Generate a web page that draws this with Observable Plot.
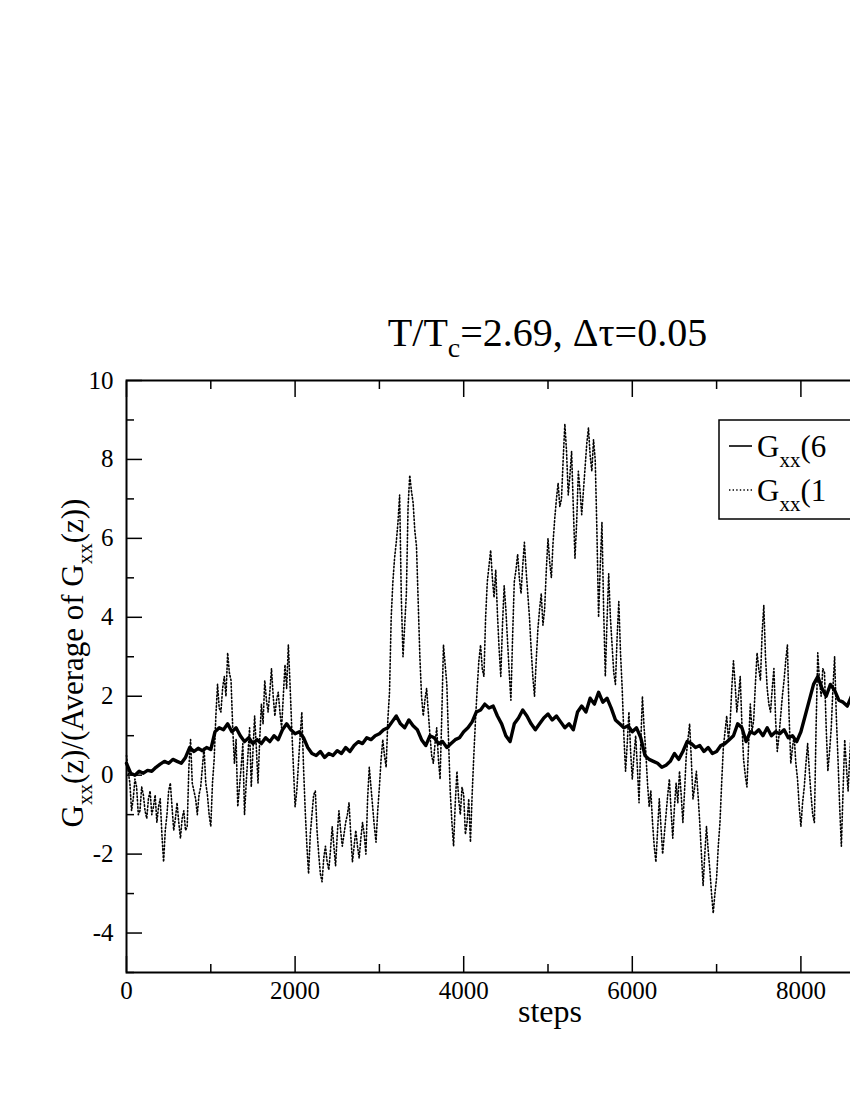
<!DOCTYPE html>
<html><head><meta charset="utf-8">
<script src="https://cdn.jsdelivr.net/npm/d3@7"></script>
<script src="https://cdn.jsdelivr.net/npm/@observablehq/plot@0.6"></script>
<style>
html,body{margin:0;padding:0;background:#fff;overflow:hidden;width:850px;height:1100px;}
#chart{position:relative;width:1100px;height:1100px;}
</style></head><body><div id="chart"></div>
<script>
// ---- data ----
const solidStep = 50;
const solidValues = [
  0.3,0.05,0.0,0.1,0.05,0.12,0.1,0.2,0.28,0.35,0.3,0.4,0.35,0.3,0.45,0.7,0.6,0.68,0.62,0.7,
  0.65,1.1,1.2,1.15,1.3,1.1,1.2,1.0,0.85,0.95,0.8,0.9,0.8,0.95,0.85,1.0,0.9,1.15,1.3,1.15,
  1.05,1.1,0.95,0.7,0.55,0.5,0.6,0.45,0.55,0.5,0.62,0.55,0.7,0.6,0.75,0.85,0.8,0.95,0.9,1.0,
  1.05,1.15,1.2,1.35,1.5,1.3,1.2,1.4,1.25,1.15,0.9,0.75,1.0,0.95,0.8,0.85,0.7,0.8,0.9,0.95,
  1.1,1.2,1.35,1.6,1.65,1.8,1.7,1.75,1.5,1.3,1.0,0.85,1.3,1.45,1.65,1.5,1.3,1.15,1.3,1.45,
  1.55,1.4,1.5,1.35,1.2,1.3,1.15,1.6,1.75,1.6,1.95,1.8,2.1,1.85,1.95,1.7,1.4,1.3,1.2,1.25,
  1.1,1.2,0.95,0.5,0.4,0.35,0.3,0.2,0.25,0.35,0.55,0.4,0.6,0.85,0.8,0.7,0.75,0.6,0.7,0.55,
  0.6,0.75,0.8,0.9,1.0,1.3,1.2,0.85,1.1,1.05,1.15,1.0,1.2,1.0,1.1,1.05,1.15,0.95,1.0,0.85,
  1.1,1.5,1.9,2.3,2.5,2.2,2.0,2.3,2.15,1.9,1.85,1.75,2.0
];
const dottedStep = 20;
const dottedValues = [
  0.5,0.1,-0.2,-0.9,-0.6,-0.1,-0.3,-1.0,-0.9,-0.3,-0.5,-0.9,-1.1,-0.6,-0.4,-1.0,-0.8,-0.5,-1.2,-0.8,
  -0.6,-1.5,-2.2,-1.4,-1.0,-0.4,-0.2,-0.8,-1.4,-1.1,-0.7,-1.2,-1.6,-1.1,-0.9,-1.4,-1.3,0.2,0.9,-0.2,
  -0.4,-0.6,-1.0,-0.5,-0.3,0.2,0.7,-0.2,-0.5,-1.0,
  -1.3,-0.2,0.4,1.5,2.3,1.7,1.6,2.2,2.5,2.0,3.1,2.6,2.4,1.2,0.3,0.9,-0.8,-0.3,0.2,0.8,
  -1.0,-0.2,0.5,1.2,-0.3,0.6,1.5,0.7,-0.2,0.9,1.8,1.3,2.4,1.9,1.6,2.1,2.7,2.0,1.5,1.9,
  2.1,1.6,1.2,2.0,2.8,2.2,3.3,2.3,1.2,0.2,
  -0.8,-0.4,0.3,1.0,1.6,0.2,-0.9,-1.8,-2.5,-1.5,-1.0,-0.5,-0.4,-1.4,-2.0,-2.5,-2.7,-2.1,-1.8,-2.2,
  -2.4,-1.9,-1.3,-1.8,-2.3,-1.5,-0.9,-1.4,-1.8,-1.5,-1.2,-1.0,-0.7,-1.5,-2.2,-1.8,-1.4,-1.8,-2.1,-1.6,
  -1.2,-1.5,-2.0,-0.6,0.2,-0.3,-0.8,-1.3,-1.7,-0.9,
  -0.3,0.4,0.9,0.5,0.2,1.4,2.1,4.0,4.9,5.5,5.9,6.4,7.1,4.5,3.0,3.8,4.6,6.8,7.6,7.2,
  6.9,6.2,5.8,4.4,3.0,2.0,1.5,1.9,2.2,1.6,1.0,0.5,0.3,0.8,1.2,0.4,-0.1,1.5,3.3,2.8,
  2.3,0.9,-0.4,-1.2,-1.8,-0.7,0.1,-0.6,-1.0,-0.3,
  -0.5,-1.5,-1.2,-0.6,-1.7,-0.5,0.5,1.4,2.2,2.9,3.3,2.7,2.5,4.0,4.9,5.3,5.7,5.0,4.5,5.2,
  4.1,3.2,2.5,3.8,4.8,4.2,3.4,2.6,1.9,3.5,4.9,5.2,5.6,5.0,4.6,5.3,5.9,5.2,4.6,4.0,
  3.2,2.5,2.0,2.9,3.7,4.2,4.6,3.8,4.2,5.2,
  6.0,5.4,5.0,5.9,6.5,7.0,7.4,6.8,7.0,8.0,8.9,8.2,7.1,7.6,8.2,6.8,5.5,6.4,7.7,7.2,
  6.6,7.2,7.8,8.4,8.8,8.1,7.7,8.5,8.0,6.2,4.0,5.3,6.4,4.2,2.5,3.9,5.1,4.0,3.3,2.6,
  2.3,3.5,4.4,3.1,2.2,1.0,0.1,0.8,1.6,0.6,
  -0.1,0.5,1.0,0.2,-0.7,0.8,2.0,1.2,0.6,-0.2,-0.8,-0.4,-1.2,-1.8,-2.2,-1.4,-0.6,-1.3,-2.0,-1.5,
  -1.0,-0.5,-0.1,-0.9,-1.6,-0.8,-0.2,-0.7,0.1,-0.5,-1.2,-0.4,0.5,0.9,1.3,0.4,-0.6,-0.3,0.1,-0.5,
  -1.2,-2.0,-2.8,-2.0,-1.3,-1.9,-2.4,-3.0,-3.5,-3.0,
  -2.6,-1.8,-1.2,-0.2,0.7,1.1,1.5,0.9,1.3,2.2,2.9,2.3,1.6,2.0,2.5,1.3,0.4,0.0,-0.3,0.8,
  1.8,1.1,1.4,2.3,3.1,2.7,2.4,3.6,4.3,3.0,2.2,1.8,1.6,2.2,2.7,1.4,0.6,1.0,1.5,2.0,
  2.4,2.9,3.3,1.5,0.3,0.7,1.0,0.3,-0.1,-0.8,
  -1.3,-0.7,-0.3,0.3,0.8,0.1,-0.5,-1.0,-1.2,1.2,3.1,2.4,2.0,2.7,2.6,1.2,0.1,0.6,1.2,2.2,
  3.0,1.5,0.4,-0.8,-1.8,-0.4,0.9,0.2,-0.4,0.5,1.2
];
const xMajorTicks = [0,2000,4000,6000,8000,10000];
const xMinorTicks = [1000,3000,5000,7000,9000];
const xTickLabels = [0,2000,4000,6000,8000];
const yMajorTicks = [-4,-2,0,2,4,6,8,10];
const yMinorTicks = [-5,-3,-1,1,3,5,7,9];
const titleParts = ["T/T", "c", "=2.69, \u0394\u03c4=0.05"];
const xLabel = "steps";
const yLabelParts = ["G", "xx", "(z)/(Average of G", "xx", "(z))"];
const seriesNames = [["G", "xx", "(6"], ["G", "xx", "(1"]];

// ---- build ----
const solid = solidValues.map((v, i) => ({step: i * solidStep, value: v}));
const dotted = dottedValues.map((v, i) => ({step: i * dottedStep, value: v}));
const fmt = d => String(d);
const ff = "Liberation Serif";

const chart = Plot.plot({
  width: 1100, height: 1100,
  marginTop: 380, marginBottom: 128, marginLeft: 126, marginRight: 131,
  style: {fontFamily: ff, fontSize: "25px", color: "#000", background: "#fff", maxWidth: "none"},
  x: {domain: [0, 10000]},
  y: {domain: [-5, 10]},
  marks: [
    Plot.line(dotted, {x: "step", y: "value", stroke: "#000", strokeWidth: 1.6, strokeDasharray: "1.4,2.2"}),
    Plot.line(solid, {x: "step", y: "value", stroke: "#000", strokeWidth: 3.4}),
    Plot.axisX(xMajorTicks, {anchor: "bottom", tickSize: -16, fill: "none", label: null, strokeWidth: 1.5}),
    Plot.axisX(xMinorTicks, {anchor: "bottom", tickSize: -8, fill: "none", label: null, strokeWidth: 1.5}),
    Plot.axisX(xMajorTicks, {anchor: "top", tickSize: -16, fill: "none", label: null, strokeWidth: 1.5}),
    Plot.axisX(xMinorTicks, {anchor: "top", tickSize: -8, fill: "none", label: null, strokeWidth: 1.5}),
    Plot.axisX(xTickLabels, {anchor: "bottom", tickSize: 0, tickPadding: 9, stroke: "none", label: null, tickFormat: fmt, fontFamily: ff}),
    Plot.axisY(yMajorTicks, {anchor: "left", tickSize: -16, fill: "none", label: null, strokeWidth: 1.5}),
    Plot.axisY(yMinorTicks, {anchor: "left", tickSize: -8, fill: "none", label: null, strokeWidth: 1.5}),
    Plot.axisY(yMajorTicks, {anchor: "right", tickSize: -16, fill: "none", label: null, strokeWidth: 1.5}),
    Plot.axisY(yMinorTicks, {anchor: "right", tickSize: -8, fill: "none", label: null, strokeWidth: 1.5}),
    Plot.axisY(yMajorTicks, {anchor: "left", tickSize: 0, tickPadding: 13, stroke: "none", label: null, tickFormat: fmt, fontFamily: ff}),
    Plot.frame({stroke: "#000", strokeWidth: 2})
  ]
});
document.getElementById("chart").appendChild(chart);

const svg = d3.select(chart).attr("font-family", ff);
svg.selectAll("text").attr("font-family", ff);
// title
const t = svg.append("text").attr("x", 547.5).attr("y", 346).attr("text-anchor", "middle")
  .attr("font-family", ff).attr("font-size", 40).attr("fill", "#000");
t.append("tspan").text(titleParts[0]);
t.append("tspan").attr("dy", 11).attr("font-size", 28).text(titleParts[1]);
t.append("tspan").attr("dy", -11).text(titleParts[2]);
// x label
svg.append("text").attr("x", 550).attr("y", 1022).attr("text-anchor", "middle")
  .attr("font-family", ff).attr("font-size", 32).attr("fill", "#000").text(xLabel);
// y label
const yl = svg.append("text").attr("transform", "translate(83,663) rotate(-90)").attr("text-anchor", "middle")
  .attr("font-family", ff).attr("font-size", 31).attr("fill", "#000");
yLabelParts.forEach((p, i) => {
  const sub = i % 2 === 1;
  yl.append("tspan").attr("dy", sub ? 9 : (i === 0 ? 0 : -9)).attr("font-size", sub ? 21 : 31).text(p);
});
// legend
const lg = svg.append("g");
lg.append("rect").attr("x", 719).attr("y", 420).attr("width", 240).attr("height", 99)
  .attr("fill", "#fff").attr("stroke", "#000").attr("stroke-width", 1.5);
const rows = [{y: 446, dash: null, w: 1.6}, {y: 490, dash: "1.4,2.2", w: 1.4}];
rows.forEach((r, i) => {
  const ln = lg.append("line").attr("x1", 729).attr("x2", 752).attr("y1", r.y).attr("y2", r.y)
    .attr("stroke", "#000").attr("stroke-width", r.w);
  if (r.dash) ln.attr("stroke-dasharray", r.dash);
  const tx = lg.append("text").attr("x", 757).attr("y", r.y + 11).attr("font-size", 31)
    .attr("font-family", ff).attr("text-anchor", "start").attr("fill", "#000");
  tx.append("tspan").text(seriesNames[i][0]);
  tx.append("tspan").attr("dy", 10).attr("font-size", 21).text(seriesNames[i][1]);
  tx.append("tspan").attr("dy", -10).text(seriesNames[i][2]);
});
</script></body></html>
